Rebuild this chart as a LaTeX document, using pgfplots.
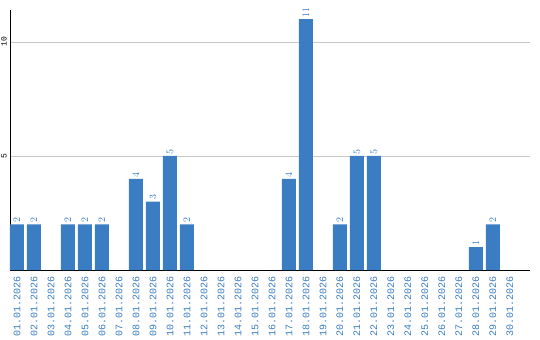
\documentclass[border=0pt]{standalone}
\usepackage{pgfplots}
\pgfplotsset{compat=1.18}
\usepackage{fontspec}
\setmainfont{Liberation Mono}
\definecolor{barblue}{HTML}{3A7DC2}
\definecolor{gridgray}{HTML}{C8C8C8}
\begin{document}
\begin{tikzpicture}
\path[use as bounding box] (-10bp,-70bp) rectangle (530bp,270bp);
\begin{axis}[
  at={(0,0)}, anchor=south west,
  scale only axis,
  width=520bp, height=260bp,
  xmin=-0.41, xmax=30.18,
  ymin=0, ymax=11.4,
  axis x line*=bottom, axis y line*=left,
  axis line style={black, line width=0.8pt},
  separate axis lines,
  x axis line style={-}, y axis line style={-},
  xtick={0,...,29},
  xticklabels={01.01.2026,02.01.2026,03.01.2026,04.01.2026,05.01.2026,06.01.2026,07.01.2026,08.01.2026,09.01.2026,10.01.2026,11.01.2026,12.01.2026,13.01.2026,14.01.2026,15.01.2026,16.01.2026,17.01.2026,18.01.2026,19.01.2026,20.01.2026,21.01.2026,22.01.2026,23.01.2026,24.01.2026,25.01.2026,26.01.2026,27.01.2026,28.01.2026,29.01.2026,30.01.2026},
  x tick label style={rotate=90, anchor=east, font=\fontsize{10bp}{10bp}\selectfont, text=barblue, inner sep=0pt},
  xticklabel shift=6bp,
  ytick={5,10},
  yticklabels={5,10},
  y tick label style={rotate=90, anchor=south, font=\fontsize{8bp}{8bp}\selectfont, text=black, inner sep=0pt},
  yticklabel shift=3bp,
  major tick length=0pt,
  ymajorgrids,
  grid style={gridgray, line width=0.8pt},
  ybar, bar width=14bp,
  nodes near coords,
  every node near coord/.append style={rotate=90, anchor=west, font=\fontsize{10bp}{10bp}\selectfont, text=barblue, inner sep=1.5bp},
  clip=false,
]
\addplot[fill=barblue, draw=none, bar shift=0pt] coordinates {
  (0,2) (1,2) (3,2) (4,2) (5,2) (7,4) (8,3) (9,5) (10,2)
  (16,4) (17,11) (19,2) (20,5) (21,5) (27,1) (28,2)
};
\end{axis}
\end{tikzpicture}
\end{document}
